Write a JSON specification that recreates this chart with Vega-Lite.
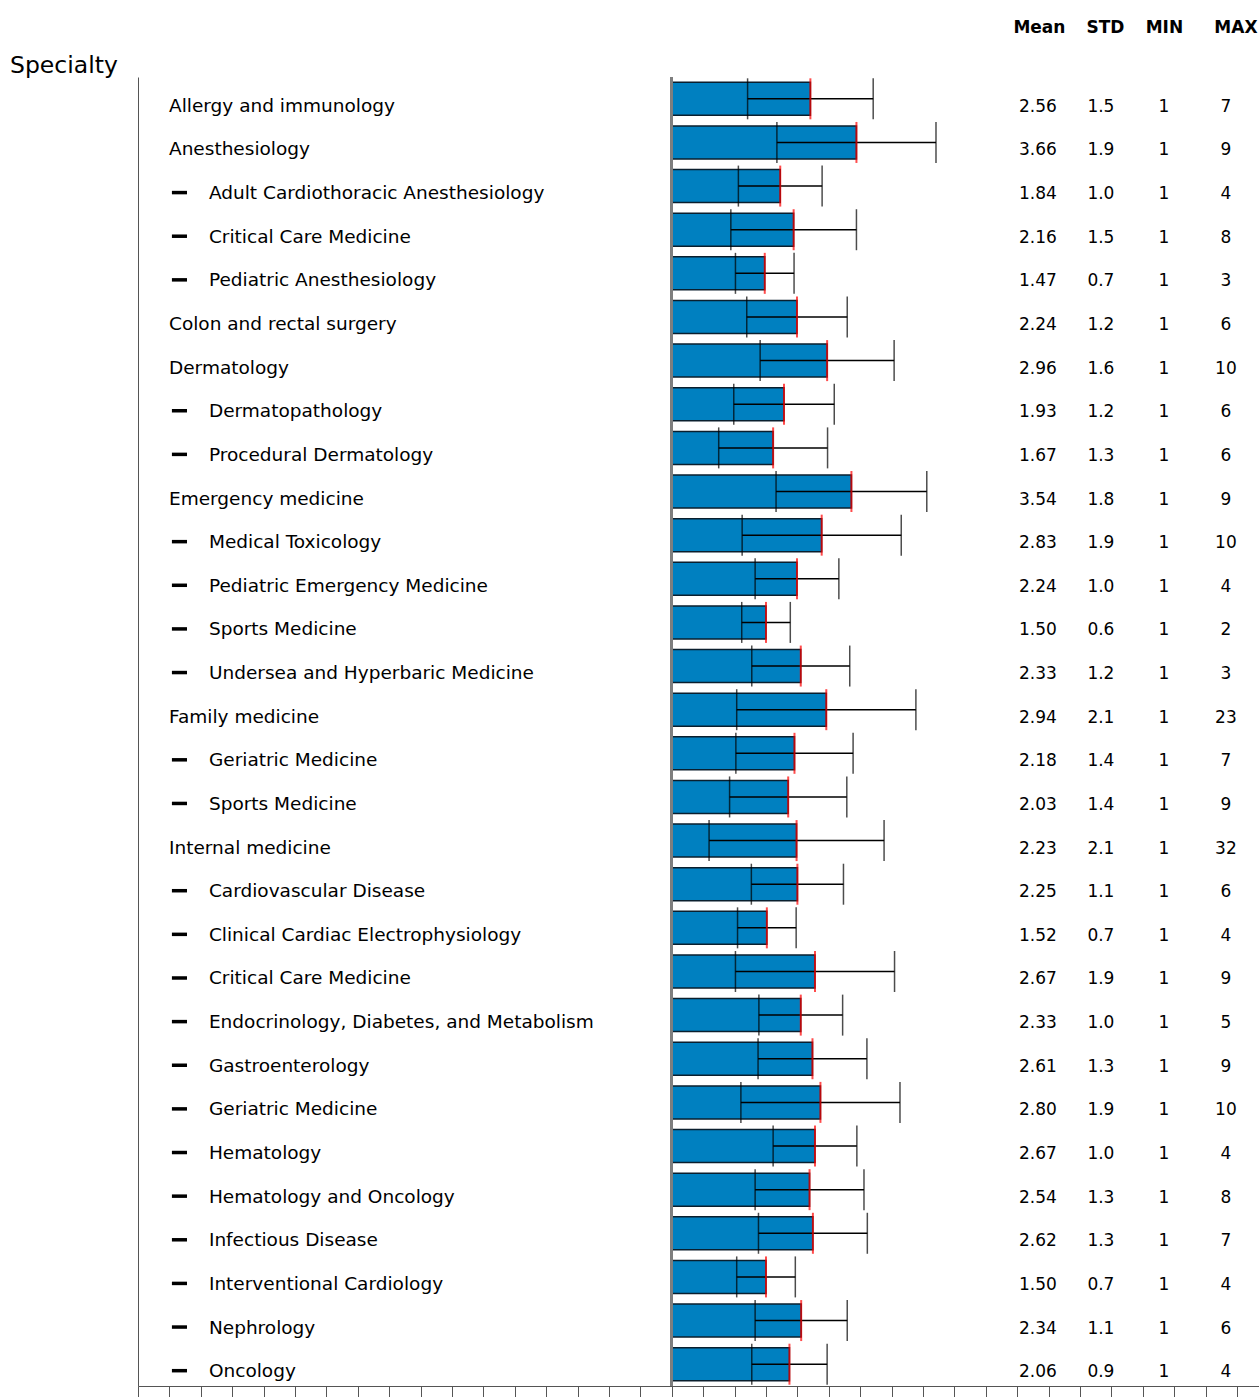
{
  "$schema": "https://vega.github.io/schema/vega-lite/v6.json",
  "width": 1121,
  "height": 1309,
  "autosize": {"type": "none"},
  "padding": {"left": 138, "top": 77, "right": 0, "bottom": 11},
  "background": "white",
  "config": {"view": {"stroke": null}, "font": "DejaVu Sans"},
  "title": {"text": "Specialty", "anchor": "start", "frame": "group", "dx": -128, "dy": 83, "offset": 5, "baseline": "alphabetic", "fontSize": 23.5, "fontWeight": "normal", "font": "DejaVu Sans", "color": "black"},
  "data": {"values": [
    {"key": "Allergy and immunology", "label": "Allergy and immunology", "level": 0, "mean": 2.56, "std": 1.5, "min": 1, "max": 7},
    {"key": "Anesthesiology", "label": "Anesthesiology", "level": 0, "mean": 3.66, "std": 1.9, "min": 1, "max": 9},
    {"key": "Anesthesiology / Adult Cardiothoracic Anesthesiology", "label": "Adult Cardiothoracic Anesthesiology", "level": 1, "mean": 1.84, "std": 1.0, "min": 1, "max": 4},
    {"key": "Anesthesiology / Critical Care Medicine", "label": "Critical Care Medicine", "level": 1, "mean": 2.16, "std": 1.5, "min": 1, "max": 8},
    {"key": "Anesthesiology / Pediatric Anesthesiology", "label": "Pediatric Anesthesiology", "level": 1, "mean": 1.47, "std": 0.7, "min": 1, "max": 3},
    {"key": "Colon and rectal surgery", "label": "Colon and rectal surgery", "level": 0, "mean": 2.24, "std": 1.2, "min": 1, "max": 6},
    {"key": "Dermatology", "label": "Dermatology", "level": 0, "mean": 2.96, "std": 1.6, "min": 1, "max": 10},
    {"key": "Dermatology / Dermatopathology", "label": "Dermatopathology", "level": 1, "mean": 1.93, "std": 1.2, "min": 1, "max": 6},
    {"key": "Dermatology / Procedural Dermatology", "label": "Procedural Dermatology", "level": 1, "mean": 1.67, "std": 1.3, "min": 1, "max": 6},
    {"key": "Emergency medicine", "label": "Emergency medicine", "level": 0, "mean": 3.54, "std": 1.8, "min": 1, "max": 9},
    {"key": "Emergency medicine / Medical Toxicology", "label": "Medical Toxicology", "level": 1, "mean": 2.83, "std": 1.9, "min": 1, "max": 10},
    {"key": "Emergency medicine / Pediatric Emergency Medicine", "label": "Pediatric Emergency Medicine", "level": 1, "mean": 2.24, "std": 1.0, "min": 1, "max": 4},
    {"key": "Emergency medicine / Sports Medicine", "label": "Sports Medicine", "level": 1, "mean": 1.50, "std": 0.58, "min": 1, "max": 2},
    {"key": "Emergency medicine / Undersea and Hyperbaric Medicine", "label": "Undersea and Hyperbaric Medicine", "level": 1, "mean": 2.33, "std": 1.17, "min": 1, "max": 3},
    {"key": "Family medicine", "label": "Family medicine", "level": 0, "mean": 2.94, "std": 2.14, "min": 1, "max": 23},
    {"key": "Family medicine / Geriatric Medicine", "label": "Geriatric Medicine", "level": 1, "mean": 2.18, "std": 1.4, "min": 1, "max": 7},
    {"key": "Family medicine / Sports Medicine", "label": "Sports Medicine", "level": 1, "mean": 2.03, "std": 1.4, "min": 1, "max": 9},
    {"key": "Internal medicine", "label": "Internal medicine", "level": 0, "mean": 2.23, "std": 2.09, "min": 1, "max": 32},
    {"key": "Internal medicine / Cardiovascular Disease", "label": "Cardiovascular Disease", "level": 1, "mean": 2.25, "std": 1.1, "min": 1, "max": 6},
    {"key": "Internal medicine / Clinical Cardiac Electrophysiology", "label": "Clinical Cardiac Electrophysiology", "level": 1, "mean": 1.52, "std": 0.7, "min": 1, "max": 4},
    {"key": "Internal medicine / Critical Care Medicine", "label": "Critical Care Medicine", "level": 1, "mean": 2.67, "std": 1.9, "min": 1, "max": 9},
    {"key": "Internal medicine / Endocrinology, Diabetes, and Metabolism", "label": "Endocrinology, Diabetes, and Metabolism", "level": 1, "mean": 2.33, "std": 1.0, "min": 1, "max": 5},
    {"key": "Internal medicine / Gastroenterology", "label": "Gastroenterology", "level": 1, "mean": 2.61, "std": 1.3, "min": 1, "max": 9},
    {"key": "Internal medicine / Geriatric Medicine", "label": "Geriatric Medicine", "level": 1, "mean": 2.80, "std": 1.9, "min": 1, "max": 10},
    {"key": "Internal medicine / Hematology", "label": "Hematology", "level": 1, "mean": 2.67, "std": 1.0, "min": 1, "max": 4},
    {"key": "Internal medicine / Hematology and Oncology", "label": "Hematology and Oncology", "level": 1, "mean": 2.54, "std": 1.3, "min": 1, "max": 8},
    {"key": "Internal medicine / Infectious Disease", "label": "Infectious Disease", "level": 1, "mean": 2.62, "std": 1.3, "min": 1, "max": 7},
    {"key": "Internal medicine / Interventional Cardiology", "label": "Interventional Cardiology", "level": 1, "mean": 1.50, "std": 0.7, "min": 1, "max": 4},
    {"key": "Internal medicine / Nephrology", "label": "Nephrology", "level": 1, "mean": 2.34, "std": 1.1, "min": 1, "max": 6},
    {"key": "Internal medicine / Oncology", "label": "Oncology", "level": 1, "mean": 2.06, "std": 0.9, "min": 1, "max": 4}
  ]},
  "layer": [
    {
      "layer": [
        {
          "mark": {"type": "bar", "color": "#0080c0", "stroke": "#0a1f2e", "strokeWidth": 1.5},
          "encoding": {
            "y": {"field": "key", "type": "nominal", "sort": null,
                  "scale": {"type": "band", "paddingInner": 0.244, "paddingOuter": 0.122},
                  "axis": {"labels": false, "ticks": false, "title": null, "grid": false, "domainColor": "#555", "domainWidth": 1}},
            "x": {"field": "mean", "type": "quantitative",
                  "scale": {"domain": [-13.5, 13.275], "nice": false, "zero": false},
                  "axis": {"values": [-13.5,-12.75,-12,-11.25,-10.5,-9.75,-9,-8.25,-7.5,-6.75,-6,-5.25,-4.5,-3.75,-3,-2.25,-1.5,-0.75,0,0.75,1.5,2.25,3,3.75,4.5,5.25,6,6.75,7.5,8.25,9,9.75,10.5,11.25,12,12.75],
                           "tickCount": 60,
                           "labels": false, "tickSize": 11, "tickColor": "#555", "tickWidth": 1, "domainColor": "#555", "domainWidth": 1, "grid": false, "title": null}},
            "x2": {"datum": -0.75}
          }
        },
        {
          "mark": {"type": "rule", "color": "#7f7f7f", "strokeWidth": 2},
          "encoding": {"x": {"datum": -0.75, "type": "quantitative"}}
        },
        {
          "mark": {"type": "errorbar", "color": "black", "ticks": {"size": 41, "thickness": 1.5, "color": "black"}, "rule": {"strokeWidth": 1.5, "color": "black"}},
          "encoding": {
            "y": {"field": "key", "type": "nominal", "sort": null},
            "x": {"field": "mean", "type": "quantitative"},
            "xError": {"field": "std"}
          }
        },
        {
          "mark": {"type": "tick", "color": "#ff0000", "thickness": 2, "size": 41},
          "encoding": {
            "y": {"field": "key", "type": "nominal", "sort": null},
            "x": {"field": "mean", "type": "quantitative"}
          }
        },
        {
          "transform": [{"filter": "datum.level == 0"}],
          "mark": {"type": "text", "align": "left", "baseline": "alphabetic", "dy": 13, "fontSize": 18.5, "color": "black"},
          "encoding": {
            "y": {"field": "key", "type": "nominal", "sort": null},
            "x": {"datum": -12.76, "type": "quantitative"},
            "text": {"field": "label"}
          }
        },
        {
          "transform": [{"filter": "datum.level == 1"}],
          "mark": {"type": "text", "align": "left", "baseline": "alphabetic", "dy": 13, "fontSize": 18.5, "color": "black"},
          "encoding": {
            "y": {"field": "key", "type": "nominal", "sort": null},
            "x": {"datum": -11.806, "type": "quantitative"},
            "text": {"field": "label"}
          }
        },
        {
          "transform": [{"filter": "datum.level == 1"}],
          "mark": {"type": "rule", "color": "black", "strokeWidth": 3.5, "yOffset": 6.5},
          "encoding": {
            "y": {"field": "key", "type": "nominal", "sort": null},
            "x": {"datum": -12.69, "type": "quantitative"},
            "x2": {"datum": -12.33}
          }
        }
      ]
    },
    {
      "layer": [
        {
          "mark": {"type": "text", "align": "center", "baseline": "alphabetic", "dy": 13, "fontSize": 17, "color": "black"},
          "encoding": {
            "y": {"field": "key", "type": "nominal", "sort": null},
            "x": {"datum": 7.994, "type": "quantitative",
                  "scale": {"domain": [-13.5, 13.275], "nice": false, "zero": false},
                  "axis": {"orient": "top", "values": [8.018, 9.595, 11.004, 12.712],
                           "labelExpr": "datum.value < 9 ? 'Mean' : datum.value < 10.5 ? 'STD' : datum.value < 12 ? 'MIN' : 'MAX'",
                           "labelFont": "DejaVu Sans", "labelFontSize": 17, "labelFontWeight": "bold", "labelColor": "black",
                           "labelBaseline": "alphabetic", "labelPadding": 45, "labelFlush": false, "labelOverlap": false,
                           "ticks": false, "tickSize": 0, "domain": false, "grid": false, "title": null}},
            "text": {"field": "mean", "format": ".2f"}
          }
        },
        {
          "mark": {"type": "text", "align": "center", "baseline": "alphabetic", "dy": 13, "fontSize": 17, "color": "black"},
          "encoding": {
            "y": {"field": "key", "type": "nominal", "sort": null},
            "x": {"datum": 9.499, "type": "quantitative"},
            "text": {"field": "std", "format": ".1f"}
          }
        },
        {
          "mark": {"type": "text", "align": "center", "baseline": "alphabetic", "dy": 13, "fontSize": 17, "color": "black"},
          "encoding": {
            "y": {"field": "key", "type": "nominal", "sort": null},
            "x": {"datum": 11.004, "type": "quantitative"},
            "text": {"field": "min", "format": "d"}
          }
        },
        {
          "mark": {"type": "text", "align": "center", "baseline": "alphabetic", "dy": 13, "fontSize": 17, "color": "black"},
          "encoding": {
            "y": {"field": "key", "type": "nominal", "sort": null},
            "x": {"datum": 12.485, "type": "quantitative"},
            "text": {"field": "max", "format": "d"}
          }
        }
      ]
    }
  ],
  "resolve": {"scale": {"x": "independent"}, "axis": {"x": "independent"}}
}
